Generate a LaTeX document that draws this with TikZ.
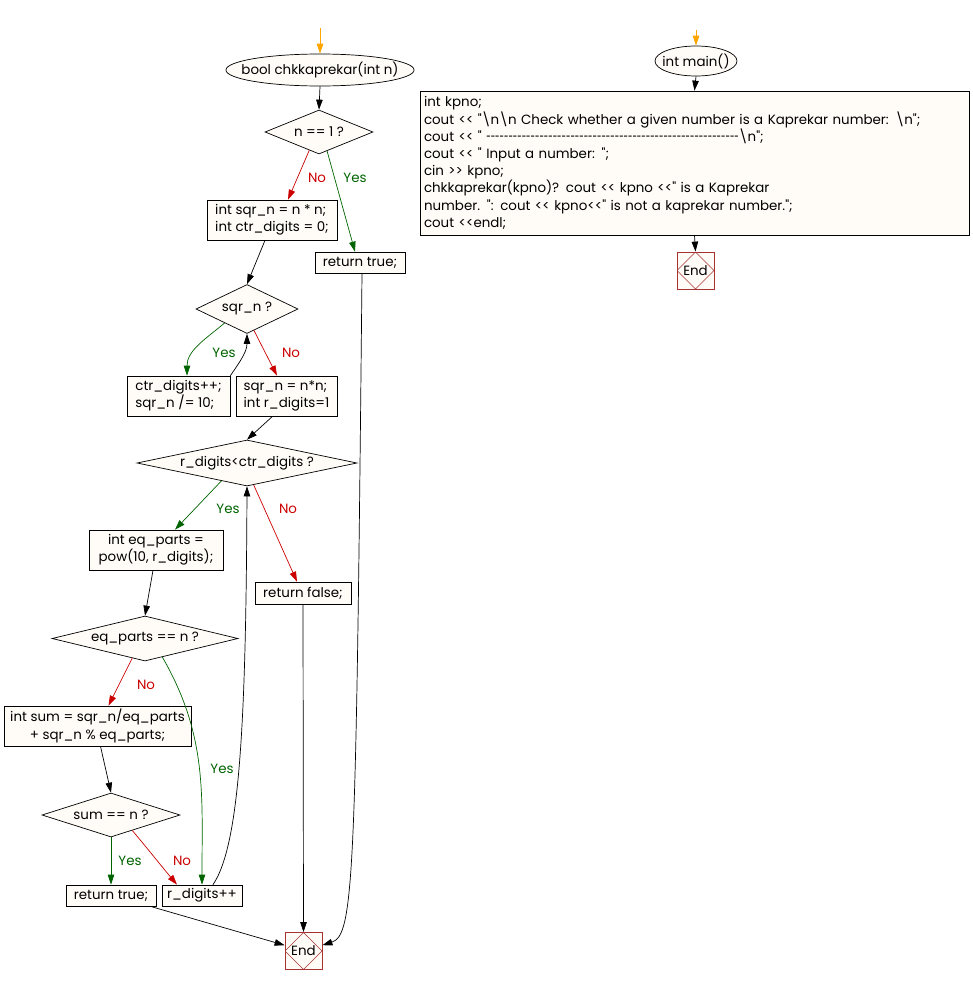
\documentclass[tikz,border=0pt]{standalone}
\usepackage{fontspec}
\usepackage{graphicx}
\newfontfamily\flowfont{Poppins}[Ligatures=TeXOff]
\usepackage{tikz}
\usetikzlibrary{arrows.meta,calc,shapes.geometric}
\definecolor{paper}{HTML}{FFFCF7}
\definecolor{yesc}{HTML}{006400}
\definecolor{noc}{HTML}{CC0000}
\definecolor{startc}{HTML}{FFA500}
\definecolor{endc}{HTML}{A83232}
\newcommand{\bsl}{\textbackslash}
\newcommand{\flowtxt}{\flowfont\fontsize{13.4}{17.2}\selectfont}
\newcommand{\dashrow}{\foreach \i in {1,...,57}{\scalebox{0.6}[1]{-}}}
\tikzset{
  blk/.style={draw, line width=0.7pt, fill=paper, inner xsep=4pt,
              inner ysep=2pt, align=left, font=\flowtxt},
  cblk/.style={blk, align=center},
  dec/.style={diamond, draw, line width=0.7pt, fill=paper, inner sep=0pt,
              font=\flowtxt},
  term/.style={ellipse, draw, line width=0.7pt, fill=paper, inner xsep=-12pt,
               inner ysep=0pt, font=\flowtxt},
  endn/.style={rectangle, draw=endc, line width=0.8pt, fill=paper,
               minimum size=37pt, inner sep=0pt, font=\flowtxt,
               path picture={\draw[endc, line width=0.5pt]
                 (path picture bounding box.north) -- (path picture bounding box.east)
                 -- (path picture bounding box.south) -- (path picture bounding box.west)
                 -- cycle;}},
  ar/.style={-{Triangle[length=10pt,width=6.5pt]}, line width=0.7pt},
  yesar/.style={ar, draw=yesc},
  noar/.style={ar, draw=noc},
  startar/.style={ar, draw=startc, line width=1pt},
  yeslbl/.style={font=\flowtxt, text=yesc},
  nolbl/.style={font=\flowtxt, text=noc},
}
\begin{document}
\begin{tikzpicture}[x=1pt, y=-1pt]
  \useasboundingbox[fill=white] (0,0) rectangle (972,985);

  % chkkaprekar
  \coordinate (c0) at (320,28);
  \node[term, minimum width=185pt, minimum height=32pt] (s1) at (320,70)
       {bool chkkaprekar(int n)};
  \node[dec, shape aspect=2.45, minimum width=108pt, minimum height=44pt] (d1) at (319,132)
       {n == 1 ?};
  \node[blk, minimum width=130pt, minimum height=40pt] (b1) at (272,220)
       {int sqr\_n = n * n;\\int ctr\_digits = 0;};
  \node[blk, minimum width=90pt, minimum height=21pt] (rt1) at (360,262.5) {return true;};
  \node[dec, shape aspect=2.08, minimum width=102pt, minimum height=49pt] (d2) at (247,309)
       {sqr\_n ?};
  \node[blk, minimum width=103pt, minimum height=40pt] (b2) at (178.5,396)
       {ctr\_digits++;\\sqr\_n /= 10;};
  \node[blk, minimum width=101pt, minimum height=40pt] (b3) at (286.5,396)
       {sqr\_n = n*n;\\int r\_digits=1};
  \node[dec, shape aspect=4.78, minimum width=220pt, minimum height=46pt] (d3) at (247,463)
       {r\_digits<ctr\_digits ?};
  \node[cblk, minimum width=134pt, minimum height=40pt] (b4) at (156,550)
       {int eq\_parts =\\pow(10, r\_digits);};
  \node[blk, minimum width=96pt, minimum height=22pt] (rf) at (303,593) {return false;};
  \node[dec, shape aspect=4.13, minimum width=186pt, minimum height=45pt] (d4) at (145,638.5)
       {eq\_parts == n ?};
  \node[cblk, minimum width=187pt, minimum height=40pt] (b5) at (97.5,726)
       {int sum = sqr\_n/eq\_parts\\+ sqr\_n \% eq\_parts;};
  \node[dec, shape aspect=3.14, minimum width=138pt, minimum height=44pt] (d5) at (111,815)
       {sum == n ?};
  \node[blk, minimum width=90pt, minimum height=21pt] (rt2) at (111,895.5) {return true;};
  \node[blk, minimum width=80pt, minimum height=21pt] (b6) at (202,895.5) {r\_digits++};
  \node[endn] (e1) at (303.5,951) {End};

  \draw[startar] (c0) -- (s1.north);
  \draw[ar] (s1.south) -- (d1.north);
  \draw[noar] (d1.-118) -- ($(b1.north)+(16,0)$);
  \draw[yesar] (d1.-67) -- ($(rt1.north)+(-5,0)$);
  \draw[ar] ($(b1.south)+(-7,0)$) -- (d2.north);
  \draw[yesar] (d2.-148) to[out=-140, in=90] ($(b2.north)+(8.5,0)$);
  \draw[ar] (b2.north east) to[out=55, in=-90] (d2.south);
  \draw[noar] (d2.-72) -- ($(b3.north)+(-9.5,0)$);
  \draw[ar] ($(b3.south)+(-14,0)$) -- (d3.north);
  \draw[yesar] (d3.-145) -- ($(b4.north)+(19,0)$);
  \draw[noar] (d3.-73) -- ($(rf.north)+(-6,0)$);
  \draw[ar] ($(b6.north)+(11,0)$) .. controls (240,845) and (246,720) .. (d3.south);
  \draw[ar] ($(b4.south)+(-3,0)$) -- (d4.north);
  \draw[noar] (d4.-123) -- ($(b5.north)+(11,0)$);
  \draw[yesar] (d4.-47) to[out=-60, in=90] (b6.north);
  \draw[ar] ($(b5.south)+(3,0)$) -- (d5.north);
  \draw[yesar] (d5.south) -- (rt2.north);
  \draw[noar] (d5.-36) to[out=-50, in=130] ($(b6.north)+(-25,0)$);
  \draw[ar] ($(rt2.south east)+(-6,0)$) -- (e1.163);
  \draw[ar] (rf.south) -- (e1.north);
  \draw[ar] ($(rt1.south)+(2,0)$) .. controls (356,880) and (354,935) .. (e1.17);

  \node[nolbl] (l1) at (317,178) {No};
  \node[yeslbl] (l2) at (355,178) {Yes};
  \node[yeslbl] (l3) at (224,353) {Yes};
  \node[nolbl] (l4) at (291,353) {No};
  \node[yeslbl] (l5) at (228,509) {Yes};
  \node[nolbl] (l6) at (288,509) {No};
  \node[nolbl] (l7) at (146,685) {No};
  \node[yeslbl] (l8) at (222,769) {Yes};
  \node[yeslbl] (l9) at (130,861) {Yes};
  \node[nolbl] (l10) at (182,861) {No};

  % main
  \coordinate (c1) at (696,30);
  \node[term, minimum width=82pt, minimum height=30pt] (m1) at (696,61) {int main()};
  \node[blk, text width=541pt, minimum height=144pt] (b7) at (694.5,163)
       {int kpno;\\
        cout << "\bsl n\bsl n Check whether a given number is a Kaprekar number: \bsl n";\\
        cout << " \dashrow\bsl n";\\
        cout << " Input a number: ";\\
        cin >> kpno;\\
        chkkaprekar(kpno)? cout << kpno <<" is a Kaprekar\\
        number. ": cout << kpno<<" is not a kaprekar number.";\\
        cout <<endl;};
  \node[endn] (e2) at (695.5,270.5) {End};

  \draw[startar] (c1) -- (m1.north);
  \draw[ar] (m1.south) -- (b7.north);
  \draw[ar] (b7.south) -- (e2.north);
\end{tikzpicture}
\end{document}
